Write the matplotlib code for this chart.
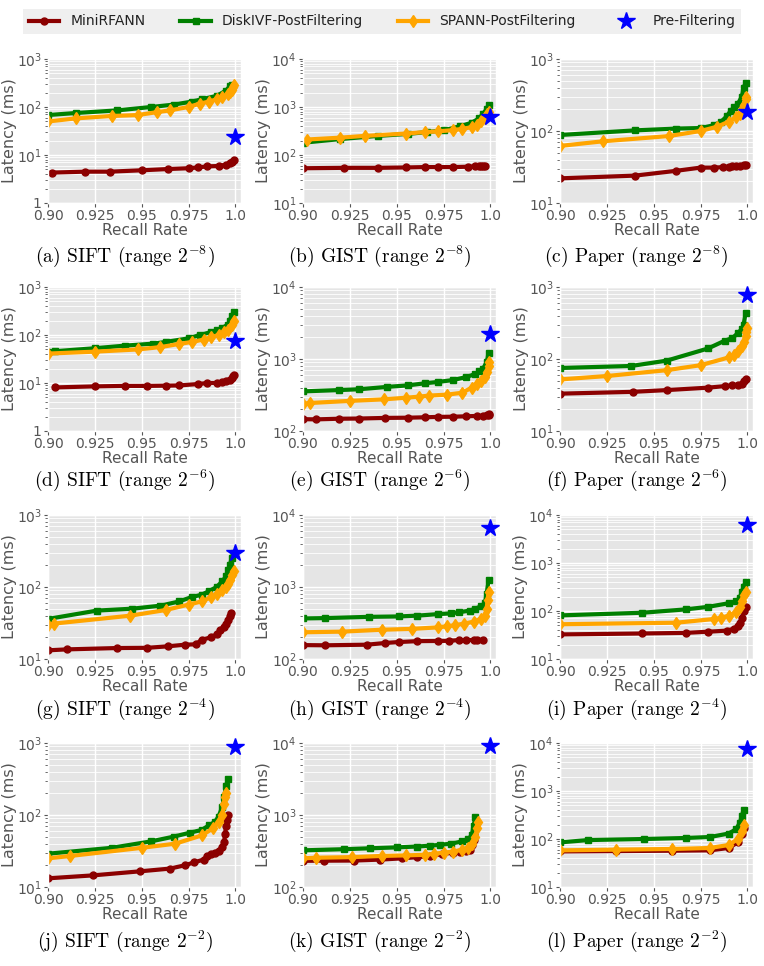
import math
import matplotlib.pyplot as plt
from matplotlib.ticker import FixedLocator, FuncFormatter, LogLocator, NullFormatter

plt.style.use("ggplot")

# ---- data (recall, latency ms) ----
# (a) SIFT 2^-8
a_mini_x = [0.902, 0.92, 0.933, 0.95, 0.964, 0.975, 0.98, 0.985, 0.991, 0.995, 0.997, 0.998, 0.999]
a_mini_y = [4.3, 4.5, 4.5, 4.8, 5.1, 5.3, 5.5, 5.8, 5.9, 6.3, 6.8, 7.2, 8.0]
a_disk_x = [0.90, 0.915, 0.937, 0.955, 0.967, 0.977, 0.982, 0.99, 0.995, 0.997, 0.998]
a_disk_y = [68, 75, 85, 100, 112, 130, 145, 170, 220, 270, 290]
a_spann_x = [0.90, 0.915, 0.934, 0.948, 0.958, 0.965, 0.975, 0.981, 0.986, 0.99, 0.993, 0.996, 0.997, 0.998, 0.9985, 0.999]
a_spann_y = [50, 58, 65, 68, 78, 85, 100, 118, 130, 145, 160, 185, 205, 230, 260, 290]
a_pre = (1.0, 24)

# (b) GIST 2^-8
b_mini_x = [0.90, 0.922, 0.94, 0.955, 0.965, 0.972, 0.98, 0.988, 0.992, 0.994, 0.995, 0.996, 0.997]
b_mini_y = [53, 54, 54, 55, 56, 56, 56, 57, 58, 58, 58, 58, 58]
b_disk_x = [0.90, 0.92, 0.94, 0.956, 0.966, 0.975, 0.984, 0.99, 0.994, 0.996, 0.998, 0.999]
b_disk_y = [180, 215, 250, 275, 300, 325, 400, 470, 580, 720, 900, 1120]
b_spann_x = [0.902, 0.92, 0.933, 0.955, 0.965, 0.972, 0.98, 0.985, 0.99, 0.993, 0.995, 0.997, 0.998, 0.999]
b_spann_y = [210, 230, 250, 280, 300, 310, 330, 350, 380, 430, 500, 600, 700, 800]
b_pre = (1.0, 620)

# (c) Paper 2^-8
c_mini_x = [0.90, 0.94, 0.962, 0.975, 0.982, 0.987, 0.99, 0.992, 0.994, 0.996, 0.998, 0.999]
c_mini_y = [22, 24, 28, 31, 31, 31.5, 32, 32.5, 33, 33, 34, 34]
c_disk_x = [0.90, 0.94, 0.962, 0.975, 0.982, 0.986, 0.989, 0.991, 0.993, 0.995, 0.997, 0.998, 0.999]
c_disk_y = [88, 102, 108, 110, 120, 135, 160, 190, 215, 240, 300, 400, 460]
c_spann_x = [0.90, 0.923, 0.958, 0.975, 0.984, 0.99, 0.994, 0.996, 0.997, 0.998, 0.999, 0.9995]
c_spann_y = [62, 72, 85, 100, 115, 135, 155, 175, 200, 230, 280, 300]
c_pre = (1.0, 185)

# (d) SIFT 2^-6
d_mini_x = [0.904, 0.925, 0.941, 0.953, 0.963, 0.97, 0.98, 0.985, 0.99, 0.993, 0.995, 0.997, 0.998, 0.9985, 0.999]
d_mini_y = [8.1, 8.5, 8.7, 8.7, 8.8, 8.9, 9.5, 10, 10, 10.3, 10.8, 11.5, 13, 14, 15]
d_disk_x = [0.90, 0.904, 0.925, 0.941, 0.956, 0.963, 0.975, 0.981, 0.987, 0.99, 0.993, 0.996, 0.997, 0.998, 0.999]
d_disk_y = [44, 46, 53, 60, 66, 72, 85, 100, 115, 125, 140, 165, 200, 250, 300]
d_spann_x = [0.90, 0.925, 0.948, 0.96, 0.97, 0.977, 0.983, 0.987, 0.991, 0.994, 0.996, 0.998, 0.999]
d_spann_y = [41, 45, 50, 56, 65, 72, 80, 90, 100, 115, 130, 160, 200]
d_pre = (1.0, 75)

# (e) GIST 2^-6
e_mini_x = [0.90, 0.907, 0.919, 0.93, 0.944, 0.956, 0.965, 0.972, 0.98, 0.987, 0.993, 0.996, 0.998, 0.999, 0.9995]
e_mini_y = [146, 145, 148, 149, 152, 153, 155, 157, 158, 160, 162, 163, 165, 168, 170]
e_disk_x = [0.90, 0.919, 0.93, 0.945, 0.956, 0.965, 0.972, 0.98, 0.987, 0.992, 0.994, 0.996, 0.998, 0.999]
e_disk_y = [355, 370, 380, 410, 430, 460, 480, 510, 560, 620, 680, 730, 900, 1200]
e_spann_x = [0.90, 0.904, 0.925, 0.943, 0.955, 0.962, 0.967, 0.977, 0.985, 0.99, 0.993, 0.995, 0.997, 0.998, 0.999, 0.9995]
e_spann_y = [240, 245, 262, 275, 290, 300, 310, 320, 340, 400, 450, 500, 560, 650, 800, 920]
e_pre = (1.0, 2250)

# (f) Paper 2^-6
f_mini_x = [0.90, 0.939, 0.957, 0.979, 0.988, 0.992, 0.995, 0.997, 0.998, 0.999]
f_mini_y = [33, 35, 37, 40, 42, 43, 43, 45, 50, 53]
f_disk_x = [0.90, 0.938, 0.957, 0.979, 0.988, 0.992, 0.995, 0.997, 0.998, 0.999]
f_disk_y = [75, 80, 95, 140, 180, 195, 230, 260, 300, 430]
f_spann_x = [0.90, 0.925, 0.957, 0.975, 0.99, 0.993, 0.995, 0.997, 0.998, 0.999, 0.9995, 1.0]
f_spann_y = [52, 58, 70, 82, 105, 115, 130, 150, 175, 210, 240, 270]
f_pre = (1.0, 780)

# (g) SIFT 2^-4
g_mini_x = [0.90, 0.91, 0.937, 0.953, 0.964, 0.973, 0.979, 0.982, 0.987, 0.99, 0.992, 0.994, 0.995, 0.996, 0.997, 0.9975]
g_mini_y = [13.2, 13.6, 14.2, 14.3, 15, 15.8, 16, 18.5, 20, 22, 25, 28, 31, 35, 40, 44]
g_disk_x = [0.90, 0.926, 0.945, 0.96, 0.97, 0.977, 0.982, 0.986, 0.99, 0.993, 0.995, 0.996, 0.997, 0.998, 0.999]
g_disk_y = [36, 47, 50, 55, 63, 73, 78, 88, 100, 120, 140, 170, 200, 250, 300]
g_spann_x = [0.90, 0.903, 0.944, 0.963, 0.975, 0.982, 0.987, 0.99, 0.993, 0.995, 0.996, 0.997, 0.998, 0.999]
g_spann_y = [30, 31, 40, 48, 57, 63, 72, 80, 90, 100, 110, 125, 145, 165]
g_pre = (1.0, 295)

# (h) GIST 2^-4
h_mini_x = [0.90, 0.912, 0.934, 0.944, 0.951, 0.961, 0.972, 0.978, 0.983, 0.987, 0.991, 0.993, 0.996]
h_mini_y = [156, 155, 158, 167, 172, 177, 178, 179, 183, 183, 184, 184, 185]
h_disk_x = [0.90, 0.912, 0.935, 0.951, 0.961, 0.972, 0.979, 0.983, 0.989, 0.992, 0.995, 0.997, 0.998, 0.999]
h_disk_y = [366, 370, 385, 390, 400, 420, 430, 445, 470, 500, 540, 600, 800, 1250]
h_spann_x = [0.90, 0.921, 0.942, 0.958, 0.972, 0.977, 0.981, 0.986, 0.991, 0.995, 0.997, 0.998, 0.9985, 0.999]
h_spann_y = [235, 240, 255, 262, 275, 285, 295, 310, 330, 360, 400, 500, 650, 850]
h_pre = (1.0, 6600)

# (i) Paper 2^-4
i_mini_x = [0.90, 0.944, 0.967, 0.979, 0.989, 0.993, 0.995, 0.996, 0.997, 0.998, 0.999]
i_mini_y = [32.5, 34, 35, 37, 39, 43, 48, 55, 70, 100, 120]
i_disk_x = [0.90, 0.944, 0.967, 0.979, 0.99, 0.994, 0.996, 0.997, 0.998, 0.999]
i_disk_y = [81, 92, 108, 122, 145, 160, 190, 250, 320, 400]
i_spann_x = [0.90, 0.962, 0.982, 0.986, 0.99, 0.994, 0.996, 0.997, 0.998, 0.999]
i_spann_y = [53, 57, 68, 72, 80, 95, 120, 160, 220, 250]
i_pre = (1.0, 6100)

# (j) SIFT 2^-2
j_mini_x = [0.90, 0.924, 0.949, 0.965, 0.973, 0.978, 0.983, 0.985, 0.987, 0.989, 0.991, 0.993, 0.994, 0.9945, 0.995, 0.9955, 0.996]
j_mini_y = [13.2, 14.5, 16.5, 18, 20, 22, 24, 27, 29, 30, 32, 36, 42, 55, 70, 85, 100]
j_disk_x = [0.90, 0.934, 0.955, 0.967, 0.976, 0.982, 0.986, 0.989, 0.991, 0.993, 0.994, 0.995, 0.996]
j_disk_y = [29, 35, 43, 50, 57, 62, 72, 80, 95, 130, 180, 250, 320]
j_spann_x = [0.90, 0.912, 0.95, 0.968, 0.982, 0.988, 0.991, 0.993, 0.994, 0.9945, 0.995]
j_spann_y = [25, 27, 35, 40, 52, 65, 80, 100, 140, 180, 200]
j_pre = (1.0, 890)

# (k) GIST 2^-2
k_mini_x = [0.90, 0.911, 0.927, 0.941, 0.953, 0.961, 0.968, 0.974, 0.98, 0.984, 0.987, 0.989, 0.99, 0.991, 0.9915]
k_mini_y = [231, 232, 233, 240, 250, 260, 270, 285, 300, 310, 320, 330, 380, 450, 520]
k_disk_x = [0.90, 0.922, 0.936, 0.95, 0.961, 0.968, 0.973, 0.979, 0.985, 0.988, 0.99, 0.991, 0.992]
k_disk_y = [323, 335, 345, 355, 365, 375, 385, 400, 430, 460, 520, 700, 950]
k_spann_x = [0.90, 0.907, 0.926, 0.942, 0.955, 0.965, 0.97, 0.975, 0.98, 0.985, 0.988, 0.99, 0.992, 0.993, 0.9935]
k_spann_y = [250, 255, 260, 270, 275, 280, 290, 300, 310, 330, 350, 400, 500, 650, 800]
k_pre = (1.0, 8950)

# (l) Paper 2^-2
l_mini_x = [0.90, 0.93, 0.96, 0.98, 0.99, 0.995, 0.997, 0.998]
l_mini_y = [55, 56, 57, 58, 65, 85, 130, 170]
l_disk_x = [0.90, 0.915, 0.945, 0.967, 0.98, 0.99, 0.994, 0.996, 0.997, 0.998]
l_disk_y = [85, 95, 100, 105, 110, 130, 160, 220, 300, 400]
l_spann_x = [0.90, 0.93, 0.96, 0.98, 0.99, 0.995, 0.997, 0.998]
l_spann_y = [58, 60, 62, 65, 75, 100, 150, 200]
l_pre = (1.0, 7500)

captions = [
    r"(a) SIFT (range $2^{-8}$)", r"(b) GIST (range $2^{-8}$)", r"(c) Paper (range $2^{-8}$)",
    r"(d) SIFT (range $2^{-6}$)", r"(e) GIST (range $2^{-6}$)", r"(f) Paper (range $2^{-6}$)",
    r"(g) SIFT (range $2^{-4}$)", r"(h) GIST (range $2^{-4}$)", r"(i) Paper (range $2^{-4}$)",
    r"(j) SIFT (range $2^{-2}$)", r"(k) GIST (range $2^{-2}$)", r"(l) Paper (range $2^{-2}$)",
]
ylims = [
    (1, 1e3), (10, 1e4), (10, 1e3),
    (1, 1e3), (100, 1e4), (10, 1e3),
    (10, 1e3), (100, 1e4), (10, 1e4),
    (10, 1e3), (100, 1e4), (10, 1e4),
]
panels = [
    (a_mini_x, a_mini_y, a_disk_x, a_disk_y, a_spann_x, a_spann_y, a_pre),
    (b_mini_x, b_mini_y, b_disk_x, b_disk_y, b_spann_x, b_spann_y, b_pre),
    (c_mini_x, c_mini_y, c_disk_x, c_disk_y, c_spann_x, c_spann_y, c_pre),
    (d_mini_x, d_mini_y, d_disk_x, d_disk_y, d_spann_x, d_spann_y, d_pre),
    (e_mini_x, e_mini_y, e_disk_x, e_disk_y, e_spann_x, e_spann_y, e_pre),
    (f_mini_x, f_mini_y, f_disk_x, f_disk_y, f_spann_x, f_spann_y, f_pre),
    (g_mini_x, g_mini_y, g_disk_x, g_disk_y, g_spann_x, g_spann_y, g_pre),
    (h_mini_x, h_mini_y, h_disk_x, h_disk_y, h_spann_x, h_spann_y, h_pre),
    (i_mini_x, i_mini_y, i_disk_x, i_disk_y, i_spann_x, i_spann_y, i_pre),
    (j_mini_x, j_mini_y, j_disk_x, j_disk_y, j_spann_x, j_spann_y, j_pre),
    (k_mini_x, k_mini_y, k_disk_x, k_disk_y, k_spann_x, k_spann_y, k_pre),
    (l_mini_x, l_mini_y, l_disk_x, l_disk_y, l_spann_x, l_spann_y, l_pre),
]
xticks = [0.90, 0.925, 0.95, 0.975, 1.0]
xtick_labels = ["0.90", "0.925", "0.95", "0.975", "1.0"]

W, H = 764, 966
fig = plt.figure(figsize=(W / 100, H / 100), dpi=100)

col_left = [48, 303, 560]
row_top = [59, 287, 515, 743]
ax_w, ax_h = 193, 144
cap_y = [256, 480, 709, 941]


def ytick_fmt(v, pos):
    if abs(v - 1) < 1e-9:
        return "1"
    return r"$10^{%d}$" % round(math.log10(v))


handles = None
for idx, (mx, my, dx, dy, sx, sy, pre) in enumerate(panels):
    r, c = divmod(idx, 3)
    left = col_left[c]
    top = row_top[r]
    ax = fig.add_axes([left / W, 1 - (top + ax_h) / H, ax_w / W, ax_h / H])
    ax.set_facecolor("#E5E5E5")

    l1, = ax.plot(mx, my, color="#8B0000", marker="o", markersize=5, linewidth=3)
    l2, = ax.plot(dx, dy, color="#008000", marker="s", markersize=5, linewidth=3)
    l3, = ax.plot(sx, sy, color="#FFA500", marker="d", markersize=6, linewidth=3)
    l4, = ax.plot([pre[0]], [pre[1]], color="blue", marker="*", markersize=13,
                  linestyle="none", clip_on=False, zorder=5)
    if handles is None:
        handles = [l1, l2, l3, l4]

    ax.set_yscale("log")
    lo, hi = ylims[idx]
    ax.set_ylim(lo, hi)
    ax.set_xlim(0.9, 1.003)
    ax.xaxis.set_major_locator(FixedLocator(xticks))
    ax.set_xticklabels(xtick_labels)
    ax.yaxis.set_major_locator(LogLocator(base=10))
    ax.yaxis.set_major_formatter(FuncFormatter(ytick_fmt))
    ax.yaxis.set_minor_locator(LogLocator(base=10, subs=range(2, 10)))
    ax.yaxis.set_minor_formatter(NullFormatter())
    ax.grid(True, which="major", color="white", linewidth=1.0)
    ax.grid(True, which="minor", axis="y", color="white", linewidth=0.6)
    ax.tick_params(axis="both", which="major", labelsize=10, colors="#555555",
                   length=3, pad=1.5)
    ax.tick_params(axis="y", which="minor", length=2, colors="#555555")
    ax.set_xlabel("Recall Rate", fontsize=11, color="#555555", labelpad=0)
    ax.set_ylabel("Latency (ms)", fontsize=11.5, color="#555555", labelpad=0)

    fig.text((left + ax_w / 2 - 20) / W, 1 - cap_y[r] / H, captions[idx],
             ha="center", va="center", fontsize=14, family="cmr10", math_fontfamily="cm")

leg = fig.legend(handles, ["MiniRFANN", "DiskIVF-PostFiltering", "SPANN-PostFiltering", "Pre-Filtering"],
                 loc="upper center", bbox_to_anchor=(0.5, 0.998), ncol=4, fontsize=10,
                 frameon=True, facecolor="#EBEBEB", edgecolor="none", handlelength=2.2,
                 columnspacing=2.5, borderpad=0.4, fancybox=False)
for t in leg.get_texts():
    t.set_color("#222222")

fig.savefig("out.png", dpi=100, facecolor="white")
